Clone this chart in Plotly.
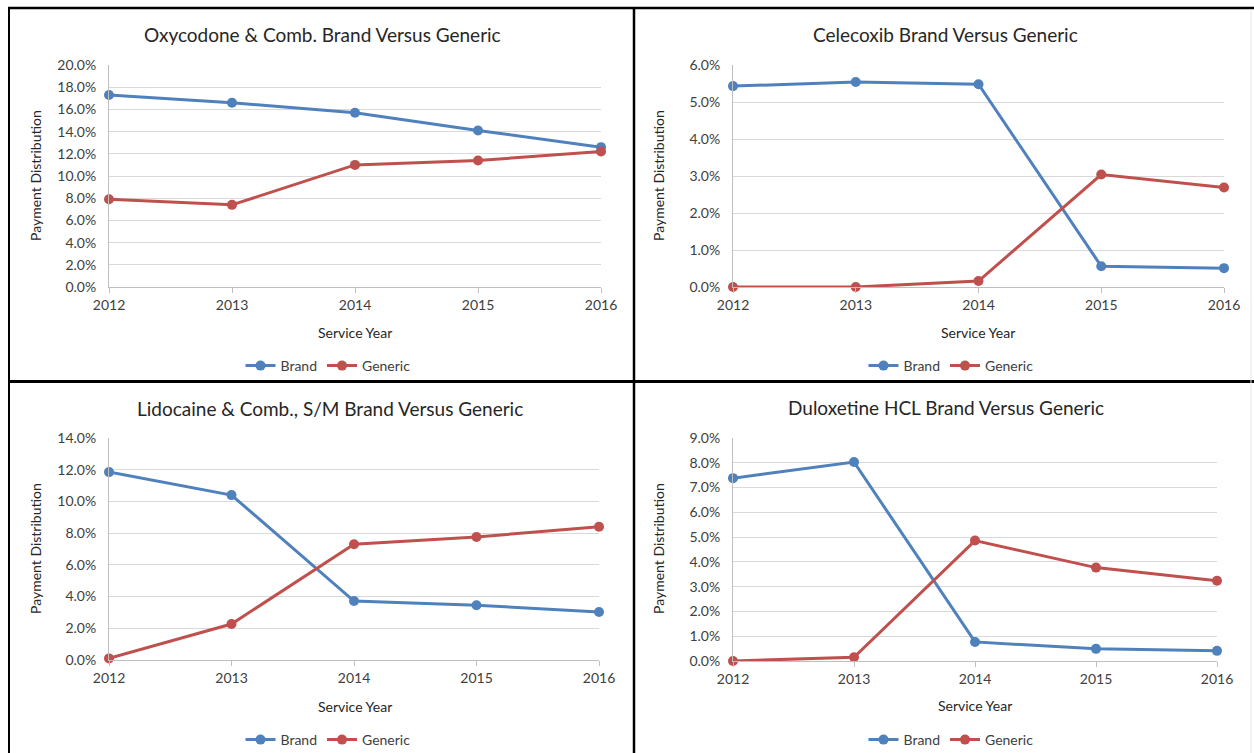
import plotly.graph_objects as go

W, H = 1254, 753

years = [2012, 2013, 2014, 2015, 2016]
year_labels = ["2012", "2013", "2014", "2015", "2016"]

titles = [
    "Oxycodone & Comb. Brand Versus Generic",
    "Celecoxib Brand Versus Generic",
    "Lidocaine & Comb., S/M Brand Versus Generic",
    "Duloxetine HCL Brand Versus Generic",
]

oxy_brand = [17.3, 16.6, 15.7, 14.1, 12.6]
oxy_generic = [7.9, 7.4, 11.0, 11.4, 12.2]

cele_brand = [5.43, 5.54, 5.48, 0.56, 0.51]
cele_generic = [0.0, 0.0, 0.16, 3.04, 2.69]

lido_brand = [11.85, 10.4, 3.72, 3.45, 3.03]
lido_generic = [0.1, 2.27, 7.3, 7.76, 8.4]

dulo_brand = [7.38, 8.03, 0.77, 0.49, 0.41]
dulo_generic = [0.0, 0.15, 4.86, 3.77, 3.24]

y_max = [20, 6, 14, 9]
y_step = [2, 1, 2, 1]

series = [
    (oxy_brand, oxy_generic),
    (cele_brand, cele_generic),
    (lido_brand, lido_generic),
    (dulo_brand, dulo_generic),
]

BLUE = "#4f81bd"
RED = "#c0504d"
FONT = "Lato"

# pixel layout of each panel: (x0, x1, ytop, ybottom)
boxes = [
    (109, 601, 65, 287),
    (733, 1224, 65, 287),
    (109, 599, 438, 660),
    (733, 1217, 438, 661),
]
title_pos = [(322, 35), (945, 35), (330, 408), (946, 407)]
ytitle_pos = [(35, 176), (658, 176), (35, 549), (658, 549)]
xtitle_pos = [(355, 332), (978, 332), (355, 706), (975, 705)]
legend_pos = [(328, 366), (951, 366), (328, 740), (951, 740)]


def px(x):
    return x / W


def py(y):
    return 1 - y / H


fig = go.Figure()
annotations = []
layout = {}

for i in range(4):
    ax = "" if i == 0 else str(i + 1)
    leg = "legend" if i == 0 else f"legend{i + 1}"
    b, g = series[i]
    for name, vals, col in (("Brand", b, BLUE), ("Generic", g, RED)):
        fig.add_trace(go.Scatter(
            x=years, y=vals, name=name, mode="lines+markers",
            line=dict(color=col, width=3),
            marker=dict(color=col, size=10),
            xaxis="x" + ax, yaxis="y" + ax, legend=leg,
            cliponaxis=False,
        ))
    x0, x1, yt, yb = boxes[i]
    layout["xaxis" + ax] = dict(
        domain=[px(x0), px(x1)], anchor="y" + ax, range=[2012, 2016],
        tickvals=years, ticktext=year_labels, showgrid=False,
        showline=True, linecolor="#bfbfbf", linewidth=1,
        ticks="outside", ticklen=5, tickcolor="#bfbfbf",
        tickfont=dict(family=FONT, size=14, color="#404040"),
        zeroline=False, automargin=False,
    )
    tv = list(range(0, y_max[i] + 1, y_step[i]))
    layout["yaxis" + ax] = dict(
        domain=[py(yb), py(yt)], anchor="x" + ax, range=[0, y_max[i]],
        tickvals=tv, ticktext=[f"{v:.1f}%" for v in tv],
        showgrid=True, gridcolor="#d9d9d9", gridwidth=1,
        showline=True, linecolor="#bfbfbf", linewidth=1,
        ticks="", ticklabelstandoff=9, zeroline=False, automargin=False,
        tickfont=dict(family=FONT, size=14, color="#404040"),
    )
    lx, ly = legend_pos[i]
    layout[leg] = dict(
        x=px(lx), y=py(ly), xanchor="center", yanchor="middle",
        orientation="h", bgcolor="rgba(0,0,0,0)",
        font=dict(family=FONT, size=14, color="#404040"),
        itemwidth=30, tracegroupgap=0,
    )
    tx, ty = title_pos[i]
    annotations.append(dict(
        text=titles[i], x=px(tx), y=py(ty), xref="paper", yref="paper",
        xanchor="center", yanchor="middle", showarrow=False,
        font=dict(family=FONT, size=19, color="#262626"),
    ))
    ax_, ay_ = ytitle_pos[i]
    annotations.append(dict(
        text="Payment Distribution", x=px(ax_), y=py(ay_), xref="paper", yref="paper",
        xanchor="center", yanchor="middle", showarrow=False, textangle=-90,
        font=dict(family=FONT, size=14, color="#262626"),
    ))
    sx, sy = xtitle_pos[i]
    annotations.append(dict(
        text="Service Year", x=px(sx), y=py(sy), xref="paper", yref="paper",
        xanchor="center", yanchor="middle", showarrow=False,
        font=dict(family=FONT, size=14, color="#262626"),
    ))

shapes = [
    dict(type="line", xref="paper", yref="paper", x0=px(8), x1=1, y0=py(8), y1=py(8),
         line=dict(color="black", width=2.5)),
    dict(type="line", xref="paper", yref="paper", x0=px(9), x1=px(9), y0=py(8), y1=0,
         line=dict(color="black", width=2)),
    dict(type="line", xref="paper", yref="paper", x0=px(634), x1=px(634), y0=py(8), y1=0,
         line=dict(color="black", width=2.5)),
    dict(type="line", xref="paper", yref="paper", x0=px(8), x1=1, y0=py(381.5), y1=py(381.5),
         line=dict(color="black", width=3)),
    dict(type="line", xref="paper", yref="paper", x0=px(1251), x1=px(1251), y0=py(9), y1=0,
         line=dict(color="#e6e6e6", width=1)),
]

fig.update_layout(
    template="none",
    width=W, height=H,
    margin=dict(l=0, r=0, t=0, b=0, pad=0, autoexpand=False),
    paper_bgcolor="white", plot_bgcolor="white",
    annotations=annotations, shapes=shapes, showlegend=True,
    **layout,
)

fig.write_html(
    "out.html",
    config={"displayModeBar": False},
    post_script="document.body.style.margin='0';document.body.style.overflow='hidden';",
)
